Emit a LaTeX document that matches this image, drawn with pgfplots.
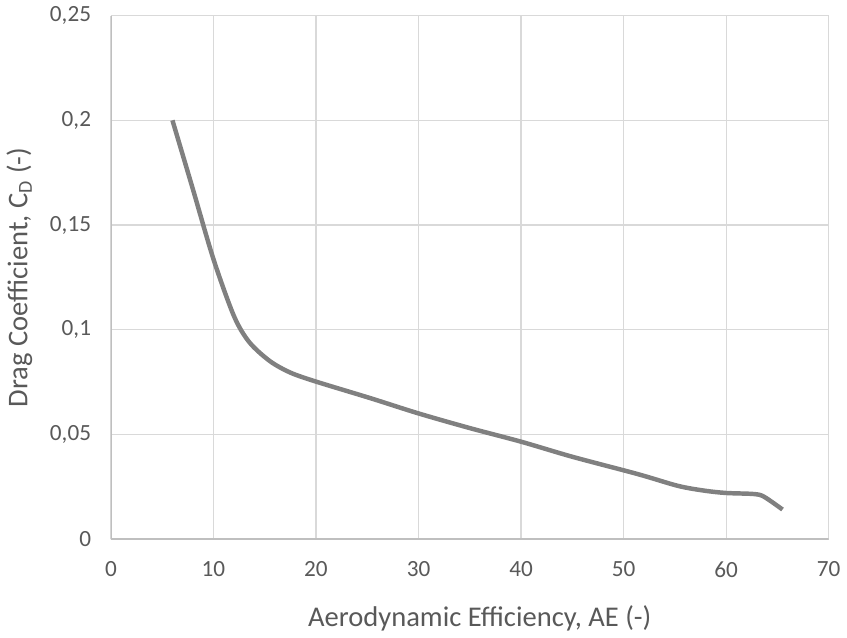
\documentclass[border=0pt]{standalone}
\usepackage{pgfplots}
\pgfplotsset{compat=1.18}
\usepackage{fontspec}
\setmainfont{Carlito}

\definecolor{gridgray}{HTML}{D9D9D9}
\definecolor{axisgray}{HTML}{BFBFBF}
\definecolor{txtgray}{HTML}{595959}
\definecolor{linegray}{HTML}{808080}

\begin{document}
\begin{tikzpicture}
\begin{axis}[
    scale only axis,
    width=362pt, height=264pt,
    xmin=0, xmax=70, ymin=0, ymax=0.25,
    xtick={0,10,...,70},
    xticklabels={0,10,20,30,40,50,60,70},
    ytick={0,0.05,0.1,0.15,0.2,0.25},
    yticklabels={0,{0,05},{0,1},{0,15},{0,2},{0,25}},
    grid=major,
    major grid style={draw=gridgray, line width=0.6pt},
    axis line style={draw=none},
    major tick length=0pt,
    tick label style={font=\fontsize{11.7}{13}\selectfont, text=txtgray},
    xticklabel style={yshift=-8pt},
    yticklabel style={xshift=-6.5pt},
    label style={font=\fontsize{14.4}{16}\selectfont, text=txtgray},
    xlabel={Aerodynamic Efficiency, AE (-)},
    ylabel={Drag Coefficient, C\textsubscript{D} (-)},
    xlabel style={yshift=-7pt, xshift=5pt},
    ylabel style={yshift=2pt},
]
\addplot[color=linegray, line width=2.25pt, smooth, no markers] coordinates {
(6,0.2) (8,0.167) (10,0.1337) (12,0.1065) (13.5,0.094) (15.5,0.085)
(17.5,0.0795) (20,0.0752) (25.3,0.0673) (30,0.06) (35,0.053) (40,0.0465)
(45,0.0393) (51.4,0.031) (55.3,0.0254) (57.9,0.0231) (60,0.022)
(62.7,0.0215) (63.7,0.0202) (65.5,0.0141)
};
\draw[axisgray, line width=0.75pt] (rel axis cs:0,1) -- (rel axis cs:0,0) -- (rel axis cs:1,0);
\end{axis}
\end{tikzpicture}
\end{document}
